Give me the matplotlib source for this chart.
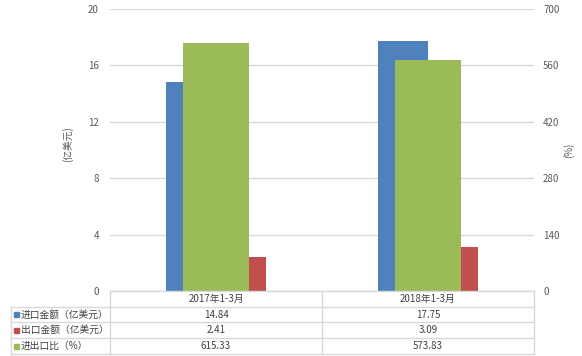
import matplotlib
matplotlib.use("Agg")
import matplotlib.pyplot as plt
import numpy as np

plt.rcParams['font.family'] = ['Noto Sans CJK SC', 'DejaVu Sans']

categories = ['2017年1-3月', '2018年1-3月']
imports = [14.84, 17.75]        # 进口金额（亿美元）
exports = [2.41, 3.09]          # 出口金额（亿美元）
ratio = [615.33, 573.83]        # 进出口比（%）
series_names = ['进口金额（亿美元）', '出口金额（亿美元）', '进出口比（%）']
table_text = [['14.84', '17.75'], ['2.41', '3.09'], ['615.33', '573.83']]
left_ticks = [0, 4, 8, 12, 16, 20]
right_ticks = [0, 140, 280, 420, 560, 700]

c_blue = '#4F81BD'
c_red = '#C0504D'
c_green = '#9BBB59'
grid_c = '#D9D9D9'
txt_c = '#595959'

W, H = 582, 356
fig = plt.figure(figsize=(W / 100, H / 100), dpi=100)

# plot area in pixels
px0, px1, py_top, py_bot = 110, 534, 9, 291
ax = fig.add_axes([px0 / W, 1 - py_bot / H, (px1 - px0) / W, (py_bot - py_top) / H])
ax2 = ax.twinx()

x = np.arange(len(categories))
w = 0.238
ax.bar(x - w / 2, imports, w, color=c_blue)
ax.bar(x + w / 2, exports, w, color=c_red)
ax2.bar(x, ratio, 0.311, color=c_green)

ax.set_xlim(-0.5, 1.5)
ax.set_ylim(0, 20)
ax2.set_ylim(0, 700)
ax.set_yticks(left_ticks)
ax2.set_yticks(right_ticks)
ax.set_xticks([])
ax.set_axisbelow(True)
ax.yaxis.grid(True, color=grid_c, lw=1)
for a in (ax, ax2):
    for s in a.spines.values():
        s.set_visible(False)
ax.tick_params(axis='y', length=0, pad=8, labelsize=7, labelcolor=txt_c)
ax2.tick_params(axis='y', length=0, pad=6.5, labelsize=7, labelcolor=txt_c)
ax.set_ylabel('(亿美元)', fontsize=7, color=txt_c)
ax.yaxis.set_label_coords(-0.086, 0.52)
ax2.set_ylabel('(%)', fontsize=7, color=txt_c, labelpad=2.5)

# data table under the chart, in figure pixel coordinates
def fx(v):
    return v / W

def fy(v):
    return 1 - v / H

rows_y = [291, 307, 322, 338, 354]
col_x = [110, 322, 534]
lkw = dict(color=grid_c, lw=1, transform=fig.transFigure)
# data-area lines
for yy in rows_y:
    fig.add_artist(plt.Line2D([fx(110), fx(534)], [fy(yy), fy(yy)], **lkw))
for xx in col_x:
    fig.add_artist(plt.Line2D([fx(xx), fx(xx)], [fy(291), fy(354)], **lkw))
# legend column lines
for yy in rows_y[1:]:
    fig.add_artist(plt.Line2D([fx(11), fx(110)], [fy(yy), fy(yy)], **lkw))
fig.add_artist(plt.Line2D([fx(11), fx(11)], [fy(307), fy(354)], **lkw))

tkw = dict(fontsize=7, color='#404040', ha='center', va='center')
for j, cat in enumerate(categories):
    cx = (col_x[j] + col_x[j + 1]) / 2
    fig.text(fx(cx), fy((rows_y[0] + rows_y[1]) / 2), cat, **tkw)
    for i in range(3):
        fig.text(fx(cx), fy((rows_y[i + 1] + rows_y[i + 2]) / 2), table_text[i][j], **tkw)

for i, (name, col) in enumerate(zip(series_names, [c_blue, c_red, c_green])):
    cy = (rows_y[i + 1] + rows_y[i + 2]) / 2
    fig.add_artist(plt.Rectangle((fx(14), fy(cy + 2.5)), 5 / W, 5 / H,
                                 color=col, transform=fig.transFigure))
    fig.text(fx(21), fy(cy), name, fontsize=7, color='#404040', ha='left', va='center')

fig.savefig('out.png', dpi=100)
